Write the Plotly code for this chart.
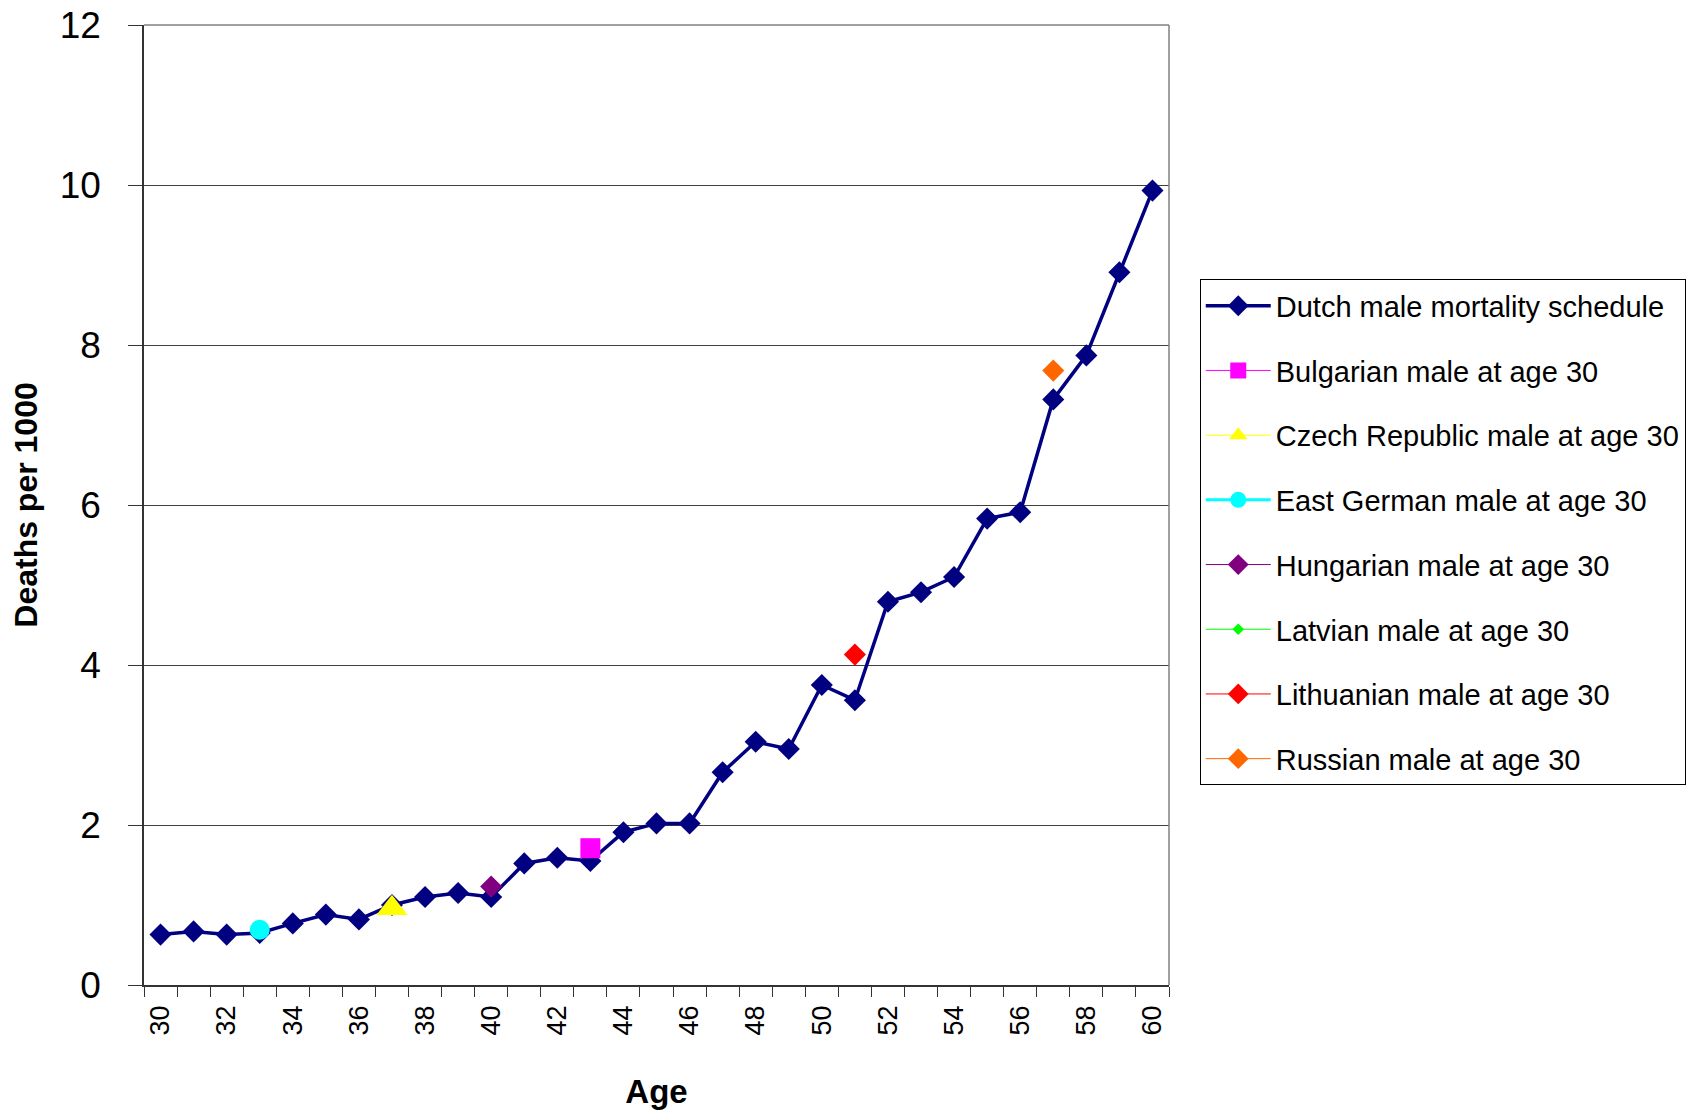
import plotly.graph_objects as go

ages = list(range(30, 61))
dutch = [0.63, 0.67, 0.63, 0.65, 0.77, 0.88, 0.82, 1.00, 1.10, 1.15, 1.10,
         1.52, 1.59, 1.55, 1.91, 2.02, 2.02, 2.66, 3.04, 2.95, 3.75, 3.56,
         4.79, 4.91, 5.10, 5.83, 5.91, 7.32, 7.87, 8.91, 9.93]

other_names = ["Bulgarian male at age 30", "Czech Republic male at age 30",
               "East German male at age 30", "Hungarian male at age 30",
               "Latvian male at age 30", "Lithuanian male at age 30",
               "Russian male at age 30"]
other_ages = [43, 37, 33, 40, None, 51, 57]
other_values = [1.71, 0.96, 0.69, 1.23, None, 4.13, 7.68]
other_colors = ["#FF00FF", "#FFFF00", "#00FFFF", "#800080", "#00FF00", "#FF0000", "#FF6600"]
other_symbols = ["square", "triangle-up", "circle", "diamond", "diamond", "diamond", "diamond"]
other_sizes = [20, 27, 20, 17, 9, 17, 17]
other_line_widths = [1, 1, 3, 1, 1, 1, 1]

y_ticks = [0, 2, 4, 6, 8, 10, 12]
x_ticks = list(range(30, 61, 2))

FONT = "Liberation Sans, Arial, sans-serif"

fig = go.Figure()
fig.add_trace(go.Scatter(
    x=ages, y=dutch, mode="lines+markers", name="Dutch male mortality schedule",
    line=dict(color="#000080", width=3.5),
    marker=dict(symbol="diamond", size=17, color="#000080"),
    legendgroup="g0",
))
for i, name in enumerate(other_names):
    fig.add_trace(go.Scatter(
        x=[other_ages[i]], y=[other_values[i]], mode="lines+markers", name=name,
        line=dict(color=other_colors[i], width=other_line_widths[i]),
        marker=dict(symbol=other_symbols[i], size=other_sizes[i], color=other_colors[i]),
        legendgroup="g%d" % (i + 1),
    ))

fig.update_layout(
    width=1699, height=1110,
    margin=dict(l=136, r=538, t=17, b=133),
    paper_bgcolor="white", plot_bgcolor="white",
    font=dict(family=FONT, color="black"),
    showlegend=True,
    legend=dict(
        x=1.03, y=0.735, xanchor="left", yanchor="top",
        font=dict(size=29, family=FONT, color="black"),
        bordercolor="#000000", borderwidth=1,
        tracegroupgap=24, itemwidth=65,
        traceorder="grouped",
    ),
    xaxis=dict(
        range=[29.5, 60.5], tickmode="array", tickvals=x_ticks,
        ticktext=[str(v) for v in x_ticks],
        tickangle=-90, ticks="", tickfont=dict(size=27, family=FONT),
        ticklabelstandoff=8, automargin=False,
        showgrid=False, zeroline=False,
        showline=True, linecolor="#333333", linewidth=1.5,
        minor=dict(ticks="outside", tick0=29.5, dtick=1, ticklen=10,
                   tickcolor="#333333", tickwidth=1, showgrid=False),
        title=dict(text="<b>Age</b>", font=dict(size=33, family=FONT), standoff=45),
    ),
    yaxis=dict(
        range=[0, 12], tickmode="array", tickvals=y_ticks,
        tickfont=dict(size=37, family=FONT),
        ticks="outside", ticklen=14, tickcolor="#333333",
        ticklabelstandoff=20, ticklabeloverflow="allow", automargin=False,
        showgrid=True, gridcolor="#404040", gridwidth=1,
        zeroline=False,
        showline=True, linecolor="#333333", linewidth=1.5,
        title=dict(text="<b>Deaths per 1000</b>", font=dict(size=32, family=FONT), standoff=18),
    ),
    shapes=[
        dict(type="line", xref="paper", yref="paper", x0=1, x1=1, y0=0, y1=1,
             line=dict(color="#808080", width=1.5)),
        dict(type="line", xref="paper", yref="paper", x0=0, x1=1, y0=1, y1=1,
             line=dict(color="#808080", width=1.5)),
    ],
)

fig.write_html("out.html")
